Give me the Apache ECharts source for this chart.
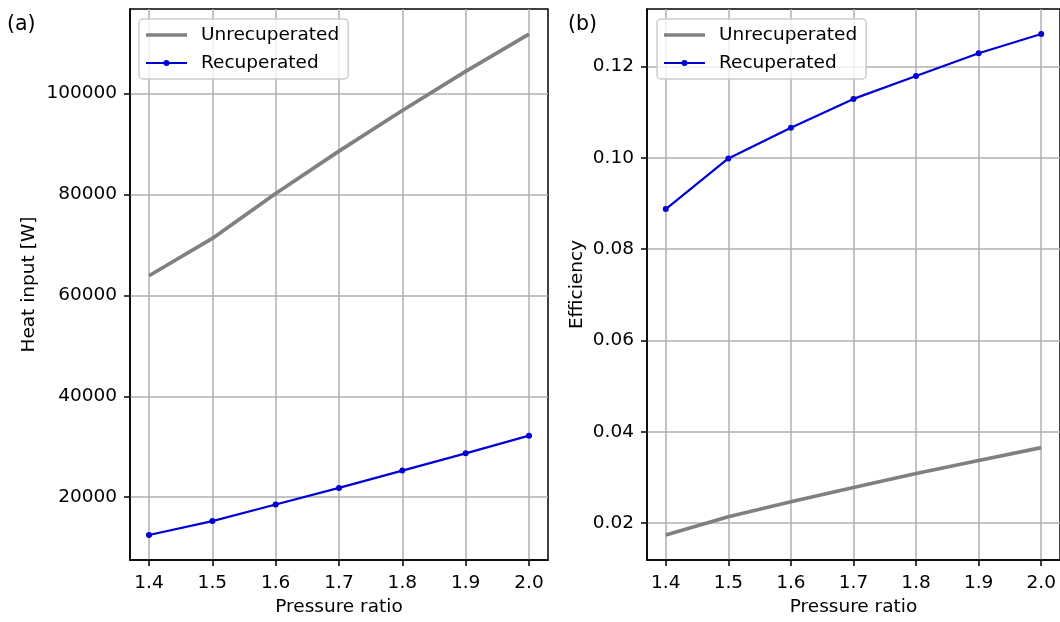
<!DOCTYPE html>
<html>
<head>
<meta charset="utf-8">
<script src="https://cdn.jsdelivr.net/npm/echarts@6/dist/echarts.min.js"></script>
<style>
  html, body { margin: 0; padding: 0; background: #fff; }
  #chart { width: 1060px; height: 622px; }
</style>
</head>
<body>
<div id="chart"></div>
<script>
// Pressure ratio sweep
const pressureRatio = [1.4, 1.5, 1.6, 1.7, 1.8, 1.9, 2.0];

// Heat input [W]
const heatUnrecuperated = [63900, 71300, 80200, 88600, 96650, 104400, 111800];
const heatRecuperated   = [12500, 15270, 18560, 21850, 25280, 28700, 32200];

// Cycle efficiency
const effUnrecuperated = [0.01738, 0.0214, 0.02467, 0.0278, 0.03085, 0.0337, 0.03653];
const effRecuperated   = [0.08878, 0.09985, 0.1066, 0.1129, 0.1179, 0.1229, 0.1271];

// Tick positions
const xTicks    = [1.4, 1.5, 1.6, 1.7, 1.8, 1.9, 2.0];
const heatTicks = [20000, 40000, 60000, 80000, 100000];
const effTicks  = [0.02, 0.04, 0.06, 0.08, 0.10, 0.12];

const FONT = 'DejaVu Sans';
const FS = 18.5;
const GRAY = '#808080';
const BLUE = '#0000d4';

// Autoscale with a 5% margin on each side
function padded(arrays) {
  const all = [].concat(...arrays);
  const lo = Math.min(...all), hi = Math.max(...all);
  const m = (hi - lo) * 0.05;
  return [lo - m, hi + m];
}
const xr = padded([pressureRatio]);
const hr = padded([heatUnrecuperated, heatRecuperated]);
const er = padded([effUnrecuperated, effRecuperated]);

const pairs = ys => pressureRatio.map((x, i) => [x, ys[i]]);

function xAxis(gridIndex) {
  return {
    type: 'value', gridIndex, min: xr[0], max: xr[1],
    name: 'Pressure ratio', nameLocation: 'middle', nameGap: 37,
    nameTextStyle: { fontFamily: FONT, fontSize: FS, color: '#000' },
    axisLine: { show: true, lineStyle: { color: '#000', width: 1.5 } },
    axisTick: { show: true, length: 6, lineStyle: { color: '#000', width: 1.5 }, customValues: xTicks },
    axisLabel: { margin: 14, fontFamily: FONT, fontSize: FS, color: '#000',
                 customValues: xTicks, formatter: v => v.toFixed(1) },
    splitLine: { show: true, lineStyle: { color: '#b0b0b0', width: 1.5 } }
  };
}
function yAxis(gridIndex, range, ticks, name, gap, digits) {
  return {
    type: 'value', gridIndex, min: range[0], max: range[1],
    name, nameLocation: 'middle', nameGap: gap, nameRotate: 90,
    nameTextStyle: { fontFamily: FONT, fontSize: FS, color: '#000' },
    axisLine: { show: true, lineStyle: { color: '#000', width: 1.5 } },
    axisTick: { show: true, length: 6, lineStyle: { color: '#000', width: 1.5 }, customValues: ticks },
    axisLabel: { margin: 13, fontFamily: FONT, fontSize: FS, color: '#000',
                 customValues: ticks, formatter: v => v.toFixed(digits) },
    splitLine: { show: true, lineStyle: { color: '#b0b0b0', width: 1.5 } }
  };
}
function legend(left) {
  return {
    left, top: 19, orient: 'vertical',
    data: [
      // plain thick line sample, no marker
      { name: 'Unrecuperated', icon: 'path://M0,0H41V3.7H0Z' },
      { name: 'Recuperated' }
    ],
    itemWidth: 41, itemHeight: 7.5, itemGap: 6,
    padding: [5, 9, 5, 6],
    backgroundColor: 'rgba(255,255,255,0.8)',
    borderColor: '#cccccc', borderWidth: 1.5, borderRadius: 4,
    textStyle: { fontFamily: FONT, fontSize: FS, color: '#000', lineHeight: 22, padding: [0, 0, 0, 9] }
  };
}
function unrecSeries(idx, data) {
  return {
    name: 'Unrecuperated', type: 'line', xAxisIndex: idx, yAxisIndex: idx,
    data: pairs(data), symbol: 'none', animation: false,
    lineStyle: { color: GRAY, width: 3.7 }, itemStyle: { color: GRAY }
  };
}
function recSeries(idx, data) {
  return {
    name: 'Recuperated', type: 'line', xAxisIndex: idx, yAxisIndex: idx,
    data: pairs(data), symbol: 'circle', symbolSize: 6, showSymbol: true, animation: false,
    lineStyle: { color: BLUE, width: 2.2 }, itemStyle: { color: BLUE }
  };
}

const panelLabel = { fontFamily: FONT, fontSize: 20.5, fontWeight: 'normal', color: '#000' };

const chart = echarts.init(document.getElementById('chart'), null, { renderer: 'canvas' });
chart.setOption({
  backgroundColor: '#fff',
  animation: false,
  title: [
    { text: '(a)', left: 7, top: 14, padding: 0, textStyle: panelLabel },
    { text: '(b)', left: 568, top: 14, padding: 0, textStyle: panelLabel }
  ],
  grid: [
    { left: 130, top: 9, width: 418, height: 553, show: true, borderColor: '#000', borderWidth: 1.5, backgroundColor: 'transparent' },
    { left: 647, top: 9, width: 416, height: 553, show: true, borderColor: '#000', borderWidth: 1.5, backgroundColor: 'transparent' }
  ],
  xAxis: [xAxis(0), xAxis(1)],
  yAxis: [
    yAxis(0, hr, heatTicks, 'Heat input [W]', 91, 0),
    yAxis(1, er, effTicks, 'Efficiency', 60, 2)
  ],
  legend: [legend(139), legend(657)],
  series: [
    unrecSeries(0, heatUnrecuperated),
    recSeries(0, heatRecuperated),
    unrecSeries(1, effUnrecuperated),
    recSeries(1, effRecuperated)
  ]
});
</script>
</body>
</html>
